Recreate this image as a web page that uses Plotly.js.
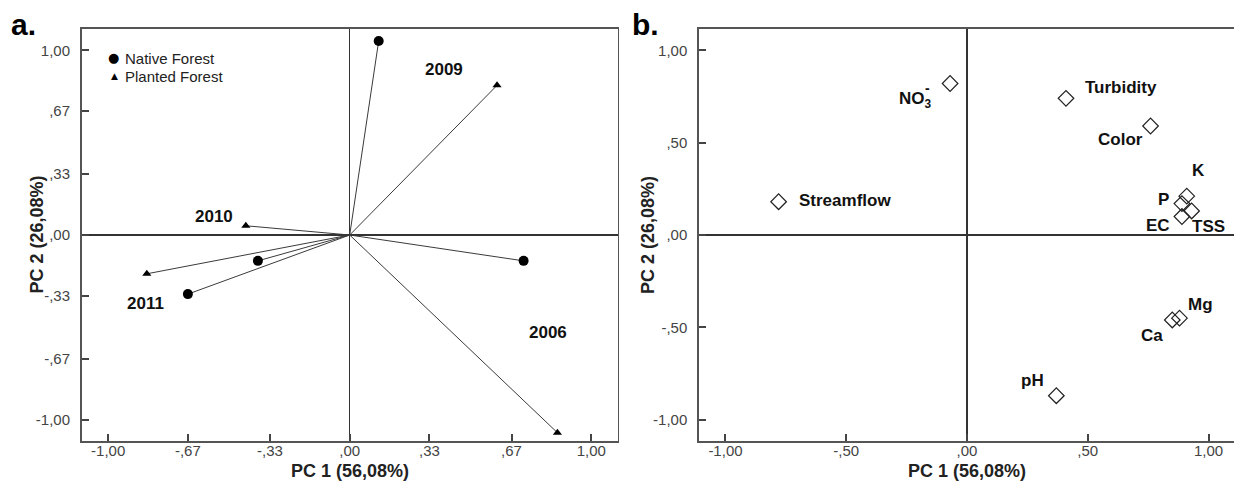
<!DOCTYPE html>
<html>
<head>
<meta charset="utf-8">
<script src="https://cdn.plot.ly/plotly-3.0.1.min.js"></script>
<style>html,body{margin:0;padding:0;background:#fff;}#chart{width:1234px;height:481px;}</style>
</head>
<body>
<div id="chart"></div>
<script>
// ---------- Panel a data ----------
const years = ['2009', '2006', '2010', '2011'];
const nativeX = [0.12, 0.72, -0.38, -0.67];
const nativeY = [1.05, -0.14, -0.14, -0.32];
const plantedX = [0.61, 0.86, -0.43, -0.84];
const plantedY = [0.81, -1.07, 0.05, -0.21];
const groupNames = ['Native Forest', 'Planted Forest'];

// ---------- Panel b data ----------
const variables = ['NO3', 'Turbidity', 'Color', 'Streamflow', 'K', 'P', 'TSS', 'EC', 'Mg', 'Ca', 'pH'];
const pc1 = [-0.07, 0.41, 0.76, -0.78, 0.91, 0.89, 0.93, 0.89, 0.88, 0.85, 0.37];
const pc2 = [0.82, 0.74, 0.59, 0.18, 0.21, 0.17, 0.13, 0.10, -0.45, -0.46, -0.87];

// axis tick labels
const tickA = [-1, -0.67, -0.33, 0, 0.33, 0.67, 1];
const tickAText = ['-1,00', '-,67', '-,33', ',00', ',33', ',67', '1,00'];
const tickB = [-1, -0.5, 0, 0.5, 1];
const tickBText = ['-1,00', '-,50', ',00', ',50', '1,00'];

// label placement (positions only, in data units)
const yearLabelPos = {'2009': [0.389, 0.897], '2006': [0.821, -0.528], '2010': [-0.562, 0.099], '2011': [-0.844, -0.369]};
const varLabelPos = {
  'NO3': [-0.215, 0.731], 'Turbidity': [0.636, 0.80], 'Color': [0.634, 0.515], 'Streamflow': [-0.505, 0.185],
  'K': [0.957, 0.348], 'P': [0.812, 0.191], 'TSS': [1.002, 0.045], 'EC': [0.789, 0.05],
  'Mg': [0.965, -0.377], 'Ca': [0.764, -0.543], 'pH': [0.273, -0.788]
};

const FONT = '"Liberation Sans", Arial, sans-serif';
const W = 1234, H = 481;
const traces = [];

// vector lines panel a
years.forEach((yr, i) => {
  traces.push({x: [0, nativeX[i]], y: [0, nativeY[i]], mode: 'lines', line: {color: '#3a3a3a', width: 1}, showlegend: false, hoverinfo: 'skip', xaxis: 'x', yaxis: 'y'});
  traces.push({x: [0, plantedX[i]], y: [0, plantedY[i]], mode: 'lines', line: {color: '#3a3a3a', width: 1}, showlegend: false, hoverinfo: 'skip', xaxis: 'x', yaxis: 'y'});
});
traces.push({x: nativeX, y: nativeY, mode: 'markers', name: groupNames[0], showlegend: false, marker: {symbol: 'circle', size: 10, color: '#000'}, xaxis: 'x', yaxis: 'y'});
traces.push({x: plantedX, y: plantedY, mode: 'markers', name: groupNames[1], showlegend: false, marker: {symbol: 'triangle-up', size: 8, color: '#000'}, xaxis: 'x', yaxis: 'y'});

// panel b diamonds
traces.push({x: pc1, y: pc2, mode: 'markers', showlegend: false, marker: {symbol: 'diamond-open', size: 12, color: '#222', line: {width: 1.2, color: '#222'}}, xaxis: 'x2', yaxis: 'y2', text: variables, hoverinfo: 'text'});

const annotations = [];
const P = (px, py, extra) => Object.assign({xref: 'paper', yref: 'paper', x: px / W, y: 1 - py / H, xanchor: 'center', yanchor: 'middle', showarrow: false}, extra);

years.forEach(yr => {
  annotations.push({xref: 'x', yref: 'y', x: yearLabelPos[yr][0], y: yearLabelPos[yr][1], xanchor: 'center', yanchor: 'middle', text: yr, showarrow: false, font: {family: FONT, size: 17, color: '#111', weight: 'bold'}});
});
variables.forEach(v => {
  const t = v === 'NO3' ? 'NO<sub>3</sub>' : v;
  annotations.push({xref: 'x2', yref: 'y2', x: varLabelPos[v][0], y: varLabelPos[v][1], xanchor: 'center', yanchor: 'middle', text: t, showarrow: false, font: {family: FONT, size: 17, color: '#111', weight: 'bold'}});
});
// superscript minus of nitrate
annotations.push({xref: 'x2', yref: 'y2', x: -0.164, y: 0.795, xanchor: 'center', yanchor: 'middle', text: '-', showarrow: false, font: {family: FONT, size: 14, color: '#111', weight: 'bold'}});

// legend (panel a)
const legFont = {family: FONT, size: 15, color: '#222'};
annotations.push(P(113, 57.5, {text: '●', font: {family: '"DejaVu Sans", sans-serif', size: 13, color: '#000'}}));
annotations.push(P(114, 76, {text: '▲', font: {family: '"DejaVu Sans", sans-serif', size: 9, color: '#000'}}));
annotations.push(P(123, 58, {xanchor: 'left', text: groupNames[0], font: legFont}));
annotations.push(P(123, 76.5, {xanchor: 'left', text: groupNames[1], font: legFont}));

// panel letters and axis titles
annotations.push(P(23, 24, {text: 'a.', font: {family: FONT, size: 30, color: '#000', weight: 'bold'}}));
annotations.push(P(645, 24, {text: 'b.', font: {family: FONT, size: 30, color: '#000', weight: 'bold'}}));
const titleFont = {family: FONT, size: 18, color: '#222', weight: 'bold'};
annotations.push(P(349.7, 471, {text: 'PC 1 (56,08%)', font: titleFont}));
annotations.push(P(967, 471, {text: 'PC 1 (56,08%)', font: titleFont}));
annotations.push(P(36.5, 235, {text: 'PC 2 (26,08%)', textangle: -90, font: titleFont}));
annotations.push(P(648, 235, {text: 'PC 2 (26,08%)', textangle: -90, font: titleFont}));

const axisBase = {
  showgrid: false, zeroline: true, zerolinecolor: '#333', zerolinewidth: 1.3,
  showline: true, mirror: true, linecolor: '#555', linewidth: 1.6,
  ticks: 'inside', ticklen: 7, tickwidth: 2, tickcolor: '#444',
  tickfont: {family: FONT, size: 15, color: '#444'}, fixedrange: true
};
const yDomain = [40 / H, 452 / H];

const layout = {
  width: W, height: H,
  margin: {l: 0, r: 0, t: 0, b: 0},
  paper_bgcolor: '#fff', plot_bgcolor: '#fff',
  showlegend: false,
  xaxis: Object.assign({}, axisBase, {domain: [81.6 / W, 617.8 / W], range: [-1.11, 1.11], tickvals: tickA, ticktext: tickAText, anchor: 'y', ticklabelstandoff: -5}),
  yaxis: Object.assign({}, axisBase, {domain: yDomain, range: [-1.115, 1.115], tickvals: tickA, ticktext: tickAText, anchor: 'x', ticklabelstandoff: 7}),
  xaxis2: Object.assign({}, axisBase, {domain: [698.9 / W, 1], range: [-1.11, 1.1056], tickvals: tickB, ticktext: tickBText, anchor: 'y2', ticklabelstandoff: -5}),
  yaxis2: Object.assign({}, axisBase, {domain: yDomain, range: [-1.115, 1.115], tickvals: tickB, ticktext: tickBText, anchor: 'x2', ticklabelstandoff: 7}),
  annotations: annotations
};

Plotly.newPlot('chart', traces, layout, {displayModeBar: false, staticPlot: true});
</script>
</body>
</html>
